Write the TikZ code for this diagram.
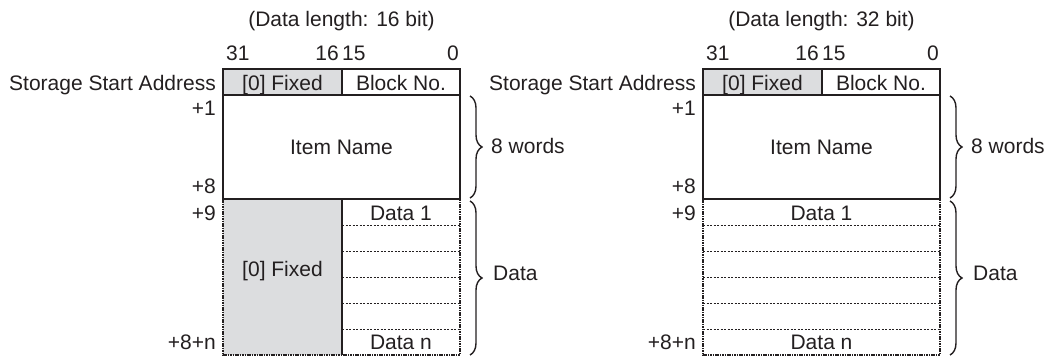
\documentclass[tikz,border=0pt]{standalone}
\usepackage{fontspec}
\setmainfont{Liberation Sans}
\usetikzlibrary{decorations.pathreplacing}
\definecolor{ink}{HTML}{231F20}
\definecolor{fixgray}{HTML}{DCDDDF}
\begin{document}
\begin{tikzpicture}[x=1pt,y=-1pt,
  font=\fontsize{21}{24}\selectfont, text=ink,
  box/.style={draw=ink, line width=1.2pt},
  sep/.style={draw=ink, line width=0.9pt, dash pattern=on 2.2pt off 1.3pt},
  outer/.style={draw=ink, line width=1.1pt, dash pattern=on 1.6pt off 0.8pt},
  txt/.style={inner sep=0pt, anchor=base},
  lft/.style={inner sep=0pt, anchor=base west},
  rgt/.style={inner sep=0pt, anchor=base east},
  brc/.style={draw=ink, line width=1.4pt, decorate, decoration={brace, amplitude=12pt}},
]
\useasboundingbox (0,0) rectangle (1062,356);

% ================= left diagram (16 bit) =================
\node[txt] (titleL) at (341.5,27) {(Data length: 16 bit)};
\node[lft] (b31L) at (226,60) {31};
\node[rgt] (b16L) at (339,60) {16};
\node[lft] (b15L) at (342,60) {15};
\node[rgt] (b0L)  at (459,60) {0};

\fill[fixgray] (223,199) rectangle (342,355);
\draw[outer] (223,199) -- (223,355) -- (460,355) -- (460,199);
\foreach \yy in {225,251,277,303,329} \draw[sep] (342,\yy) -- (460,\yy);
\draw[box] (342,199) -- (342,355);
\draw[box, fill=fixgray] (223,69) rectangle (342,95);
\draw[box] (342,69) rectangle (460,95);
\draw[box] (223,95) rectangle (460,199);

\node[txt] (hfixL) at (282.5,90) {[0] Fixed};
\node[txt] (blkL) at (401,90) {Block No.};
\node[txt] (itemL) at (341.5,154) {Item Name};
\node[txt] (fixL) at (282.5,276) {[0] Fixed};
\node[txt] (d1L) at (401,220) {Data 1};
\node[txt] (dnL) at (401,349) {Data n};

\node[rgt] (ssaL) at (216,90) {Storage Start Address};
\node[rgt] (p1L) at (216,115) {+1};
\node[rgt] (p8L) at (216,193) {+8};
\node[rgt] (p9L) at (216,220) {+9};
\node[rgt] (pnL) at (216,349) {+8+n};

\coordinate (ibtL) at (470,96);
\coordinate (ibbL) at (470,198);
\coordinate (dbtL) at (470,201);
\coordinate (dbbL) at (470,355);
\draw[brc] (ibtL) -- (ibbL);
\draw[brc] (dbtL) -- (dbbL);
\node[lft] (wL) at (491,153) {8 words};
\node[lft] (dL) at (493,280) {Data};

% ================= right diagram (32 bit) =================
\begin{scope}[xshift=480pt]
\node[txt] (titleR) at (341.5,27) {(Data length: 32 bit)};
\node[lft] (b31R) at (226,60) {31};
\node[rgt] (b16R) at (339,60) {16};
\node[lft] (b15R) at (342,60) {15};
\node[rgt] (b0R)  at (459,60) {0};

\draw[outer] (223,199) -- (223,355) -- (460,355) -- (460,199);
\foreach \yy in {225,251,277,303,329} \draw[sep] (223,\yy) -- (460,\yy);
\draw[box, fill=fixgray] (223,69) rectangle (342,95);
\draw[box] (342,69) rectangle (460,95);
\draw[box] (223,95) rectangle (460,199);

\node[txt] (hfixR) at (282.5,90) {[0] Fixed};
\node[txt] (blkR) at (401,90) {Block No.};
\node[txt] (itemR) at (341.5,154) {Item Name};
\node[txt] (d1R) at (341.5,220) {Data 1};
\node[txt] (dnR) at (341.5,349) {Data n};

\node[rgt] (ssaR) at (216,90) {Storage Start Address};
\node[rgt] (p1R) at (216,115) {+1};
\node[rgt] (p8R) at (216,193) {+8};
\node[rgt] (p9R) at (216,220) {+9};
\node[rgt] (pnR) at (216,349) {+8+n};

\coordinate (ibtR) at (470,96);
\coordinate (ibbR) at (470,198);
\coordinate (dbtR) at (470,201);
\coordinate (dbbR) at (470,355);
\draw[brc] (ibtR) -- (ibbR);
\draw[brc] (dbtR) -- (dbbR);
\node[lft] (wR) at (491,153) {8 words};
\node[lft] (dR) at (493,280) {Data};
\end{scope}
\end{tikzpicture}
\end{document}
